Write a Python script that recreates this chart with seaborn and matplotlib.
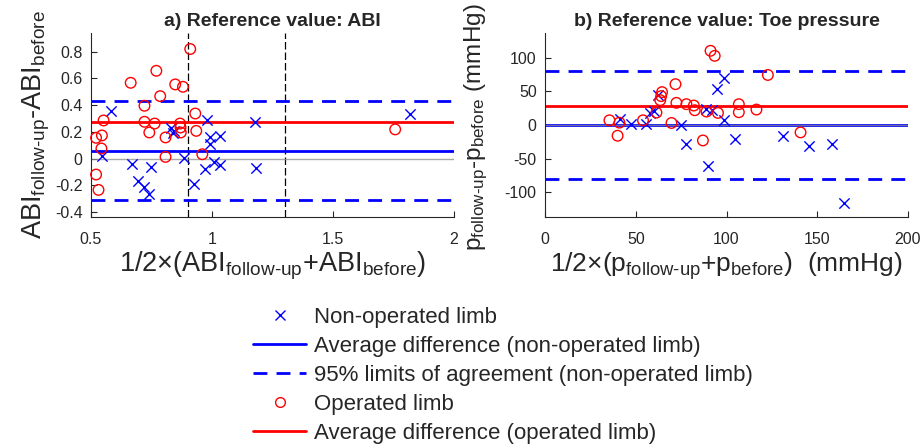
import matplotlib
matplotlib.use("Agg")
import matplotlib.pyplot as plt
import seaborn as sns
import numpy as np
from matplotlib.lines import Line2D

# ---------------- data: panel a (ABI) ----------------
abi_non_x = [0.583, 0.830, 0.845, 0.838, 0.979, 1.176, 0.990, 1.031, 0.993, 0.545,
             0.671, 0.748, 0.694, 0.717, 0.741, 0.886, 0.924, 0.972, 1.007, 1.031,
             1.183, 1.817]
abi_non_y = [0.355, 0.230, 0.205, 0.190, 0.285, 0.270, 0.162, 0.167, 0.110, 0.020,
             -0.040, -0.065, -0.165, -0.210, -0.265, 0.005, -0.193, -0.080, -0.025, -0.045,
             -0.070, 0.332]
abi_op_x = [0.910, 0.770, 0.664, 0.848, 0.880, 0.786, 0.721, 0.931, 0.552, 0.721,
            0.763, 0.868, 0.870, 0.871, 0.741, 0.935, 0.545, 0.521, 0.808, 0.543,
            0.960, 0.808, 0.521, 0.531, 1.757]
abi_op_y = [0.820, 0.657, 0.567, 0.555, 0.537, 0.467, 0.395, 0.337, 0.285, 0.275,
            0.262, 0.262, 0.232, 0.195, 0.195, 0.207, 0.173, 0.155, 0.158, 0.075,
            0.032, 0.012, -0.120, -0.235, 0.218]
abi_non_mean = 0.06
abi_non_loa = [0.43, -0.31]
abi_op_mean = 0.27
abi_thresholds = [0.9, 1.3]

# ---------------- data: panel b (toe pressure) ----------------
toe_non_x = [98.5, 94.8, 62.5, 60.3, 58.1, 41.2, 47.2, 55.9, 75.0, 77.8,
             89.8, 88.5, 92.0, 98.5, 104.8, 131.2, 145.4, 158.3, 164.7]
toe_non_y = [70.0, 54.0, 44.0, 21.5, 17.5, 9.0, 2.0, 2.0, 0.3, -28.0,
             -61.6, 24.5, 22.0, 8.0, -21.0, -16.0, -32.0, -28.5, -116.0]
toe_op_x = [91.2, 93.5, 71.9, 64.5, 64.0, 63.5, 72.4, 77.9, 82.0, 82.5,
            89.0, 95.3, 106.8, 106.8, 116.5, 122.8, 61.4, 35.5, 41.0, 40.0,
            54.0, 69.7, 87.0, 140.8]
toe_op_y = [110.5, 103.0, 60.8, 49.0, 43.0, 37.0, 33.0, 31.0, 29.0, 22.0,
            20.0, 18.0, 31.0, 19.0, 23.0, 74.5, 18.5, 7.0, 3.5, -16.0,
            7.0, 3.0, -23.0, -11.0]
toe_non_mean = -0.5
toe_non_loa = [80.3, -81.0]
toe_op_mean = 28.6

legend_labels = ["Non-operated limb",
                 "Average difference (non-operated limb)",
                 "95% limits of agreement (non-operated limb)",
                 "Operated limb",
                 "Average difference (operated limb)"]

# ---------------- style ----------------
sns.set_theme(style="ticks")
plt.rcParams["font.family"] = ["Liberation Sans", "DejaVu Sans"]
plt.rcParams["mathtext.fontset"] = "custom"
plt.rcParams["mathtext.rm"] = "Liberation Sans"
plt.rcParams["mathtext.it"] = "Liberation Sans"
plt.rcParams["mathtext.bf"] = "Liberation Sans:bold"

BLUE = "#0000ff"
RED = "#ff0000"
DARK = "#262626"
HY = "\u2010"

fig = plt.figure(figsize=(9.24, 4.47), dpi=100)
ax1 = fig.add_axes([91 / 924, 1 - 217 / 447, 363 / 924, 184 / 447])
ax2 = fig.add_axes([545 / 924, 1 - 217 / 447, 363 / 924, 184 / 447])

MS = 55
LW_MEAN = 2.0
DASH = (5, 3.3)


def panel(ax, nx, ny, ox, oy, nmean, nloa, omean):
    ax.axhline(nmean, color=BLUE, lw=LW_MEAN, zorder=2)
    ax.axhline(0, color="#8c8c8c", lw=1.0, alpha=0.75, zorder=2.2)
    for v in nloa:
        ax.axhline(v, color=BLUE, lw=LW_MEAN, dashes=DASH, zorder=2)
    ax.axhline(omean, color=RED, lw=LW_MEAN, zorder=2)
    sns.scatterplot(x=nx, y=ny, ax=ax, marker="x", color=BLUE, s=MS,
                    linewidth=1.0, zorder=3, clip_on=False)
    sns.scatterplot(x=ox, y=oy, ax=ax, marker="o", color=RED, facecolor="none",
                    edgecolor=RED, s=MS * 1.05, linewidth=1.0, zorder=3, clip_on=False)
    for sp in ["top", "right"]:
        ax.spines[sp].set_visible(False)
    for sp in ["left", "bottom"]:
        ax.spines[sp].set_color(DARK)
        ax.spines[sp].set_linewidth(0.8)
    ax.tick_params(direction="in", length=4, width=0.8, colors=DARK,
                   labelsize=11.5)
    ax.tick_params(axis="x", pad=11)
    ax.tick_params(axis="y", pad=6)


panel(ax1, abi_non_x, abi_non_y, abi_op_x, abi_op_y, abi_non_mean, abi_non_loa, abi_op_mean)
for v in abi_thresholds:
    ax1.axvline(v, color="black", lw=0.9, dashes=(6, 2.4), zorder=1.5)
ax1.set_xlim(0.5, 2)
ax1.set_ylim(-0.438, 0.94)
ax1.set_xticks([0.5, 1, 1.5, 2])
ax1.set_xticklabels(["0.5", "1", "1.5", "2"])
ax1.set_yticks([-0.4, -0.2, 0, 0.2, 0.4, 0.6, 0.8])
ax1.set_yticklabels(["-0.4", "-0.2", "0", "0.2", "0.4", "0.6", "0.8"])
ax1.set_title("a) Reference value: ABI", fontsize=14, fontweight="bold", pad=5)
ax1.set_xlabel(r"$\mathregular{1/2{\times}(ABI_{follow" + HY + r"up}{+}ABI_{before})}$",
               fontsize=19.5, labelpad=2)
ax1.set_ylabel(r"$\mathregular{ABI_{follow" + HY + r"up}{" + HY + r"}ABI_{before}}$",
               fontsize=19.5, labelpad=2)

panel(ax2, toe_non_x, toe_non_y, toe_op_x, toe_op_y, toe_non_mean, toe_non_loa, toe_op_mean)
ax2.set_xlim(0, 200)
ax2.set_ylim(-137, 137)
ax2.set_xticks([0, 50, 100, 150, 200])
ax2.set_yticks([-100, -50, 0, 50, 100])
ax2.set_yticklabels(["-100", "-50", "0", "50", "100"])
ax2.set_title("b) Reference value: Toe pressure", fontsize=14, fontweight="bold", pad=5)
ax2.set_xlabel(r"$\mathregular{1/2{\times}(p_{follow" + HY + r"up}{+}p_{before})}$  (mmHg)",
               fontsize=19, labelpad=2)
ax2.set_ylabel(r"$\mathregular{p_{follow" + HY + r"up}{" + HY + r"}p_{before}}$ (mmHg)",
               fontsize=17.5, labelpad=4)
ax2.yaxis.set_label_coords(-0.152, 0.49)

handles = [
    Line2D([], [], ls="none", marker="x", color=BLUE, ms=7, mew=1.0),
    Line2D([], [], color=BLUE, lw=LW_MEAN),
    Line2D([], [], color=BLUE, lw=LW_MEAN, dashes=DASH),
    Line2D([], [], ls="none", marker="o", mfc="none", mec=RED, color=RED, ms=7, mew=1.0),
    Line2D([], [], color=RED, lw=LW_MEAN),
]
fig.legend(handles, legend_labels, loc="upper left",
           bbox_to_anchor=(253 / 924, 1 - 307 / 447), frameon=False,
           fontsize=16, handlelength=2.4, handletextpad=0.35,
           labelspacing=0.36, borderpad=0, borderaxespad=0)

fig.savefig("out.png", dpi=100)
